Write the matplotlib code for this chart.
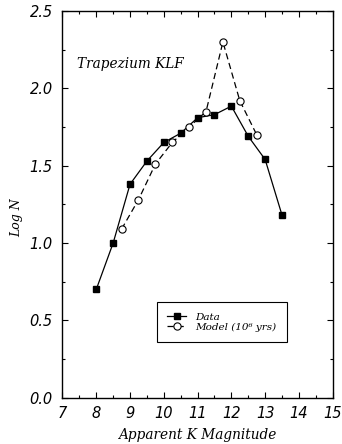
import matplotlib
matplotlib.use("Agg")
import matplotlib.pyplot as plt
from matplotlib.ticker import MultipleLocator

data_mag = [8.0, 8.5, 9.0, 9.5, 10.0, 10.5, 11.0, 11.5, 12.0, 12.5, 13.0, 13.5]
data_logn = [0.70, 1.00, 1.38, 1.53, 1.65, 1.71, 1.81, 1.83, 1.885, 1.69, 1.54, 1.18]
model_mag = [8.75, 9.25, 9.75, 10.25, 10.75, 11.25, 11.75, 12.25, 12.75]
model_logn = [1.09, 1.28, 1.51, 1.65, 1.75, 1.85, 2.30, 1.92, 1.70]
x_ticks = [7, 8, 9, 10, 11, 12, 13, 14, 15]
y_ticks = [0.0, 0.5, 1.0, 1.5, 2.0, 2.5]

serif_it = dict(family="DejaVu Serif", style="italic")
sans_it = dict(family="DejaVu Sans", style="oblique")

fig = plt.figure(figsize=(3.42, 4.44), dpi=100)
ax = fig.add_axes([0.1827, 0.1043, 0.7901, 0.8709])

ax.plot(data_mag, data_logn, '-', color='black', lw=0.9,
        marker='s', ms=4.5, mfc='black', mec='black', label='Data')
ax.plot(model_mag, model_logn, '--', color='black', lw=0.9, dashes=(5, 3),
        marker='o', ms=5.2, mfc='white', mec='black', mew=0.8,
        label='Model (10\u2076 yrs)')

ax.set_xlim(7, 15)
ax.set_ylim(0, 2.5)
ax.set_xticks(x_ticks)
ax.set_yticks(y_ticks)
ax.xaxis.set_minor_locator(MultipleLocator(0.5))
ax.yaxis.set_minor_locator(MultipleLocator(0.25))
ax.tick_params(which='both', direction='in', top=True, right=True, width=0.8)
ax.tick_params(which='major', length=4)
ax.tick_params(which='minor', length=2)
ax.tick_params(axis='x', pad=6)
ax.tick_params(axis='y', pad=7)
ax.set_xticklabels([str(t) for t in x_ticks], fontsize=10.5, **sans_it)
ax.set_yticklabels(["%.1f" % t for t in y_ticks], fontsize=10.5, **sans_it)
for s in ax.spines.values():
    s.set_linewidth(1.0)

ax.set_xlabel("Apparent K Magnitude", fontsize=9.8, labelpad=5, **serif_it)
ax.set_ylabel("Log N", fontsize=9, **serif_it)
ax.yaxis.set_label_coords(-0.145, 0.465)
ax.text(7.43, 2.13, "Trapezium KLF", fontsize=9.8, **serif_it)

leg = ax.legend(loc='upper left', bbox_to_anchor=(0.35, 0.2475), borderaxespad=0,
                fancybox=False, edgecolor='black', framealpha=1,
                prop=dict(family="DejaVu Serif", style="italic", size=7.5),
                handlelength=1.8, handletextpad=0.9, borderpad=1.0,
                labelspacing=0.05)
leg.get_frame().set_linewidth(0.8)

fig.savefig("out.png", dpi=100)
